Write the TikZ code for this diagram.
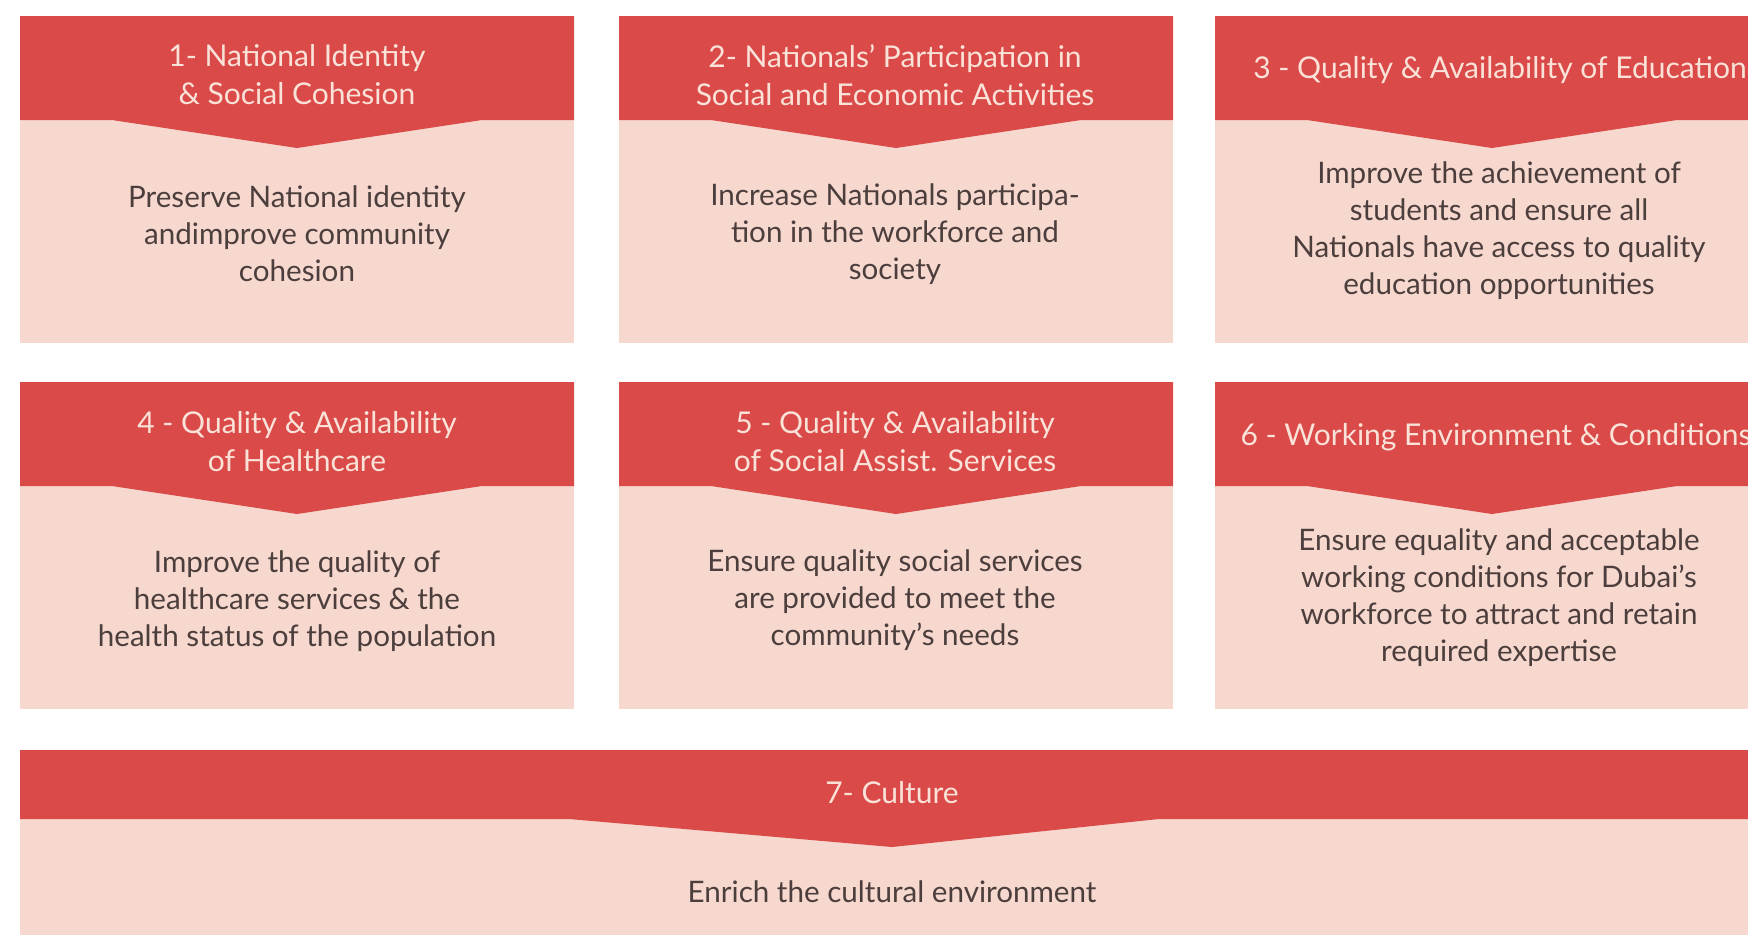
\documentclass[tikz,border=0pt]{standalone}
\usepackage{fontspec}
\setmainfont{Lato}
\definecolor{bandred}{RGB}{217,74,72}
\definecolor{boxpink}{RGB}{246,216,206}
\definecolor{titlepink}{RGB}{250,226,216}
\definecolor{bodygrey}{RGB}{76,62,60}
\tikzset{
  titletext/.style={text=titlepink, align=center, font=\fontsize{15}{19}\selectfont},
  bodytext/.style={text=bodygrey, align=center, font=\fontsize{14.8}{18.5}\selectfont},
}
\begin{document}
\begin{tikzpicture}[x=0.5pt,y=-0.5pt]
      \useasboundingbox (0,0) rectangle (1748,934);
      \clip (0,0) rectangle (1748,934);
      \fill[white] (0,0) rectangle (1748,934);

      % six goal boxes, left x / top y
      \foreach \x/\y in {20/16, 619/16, 1215/16, 20/382, 619/382, 1215/382} {
        \fill[boxpink] (\x,\y) rectangle ++(554,327);
        \fill[bandred] (\x,\y) -- ++(554,0) -- ++(0,104) -- ++(-92,0) -- ++(-185,28) -- ++(-185,-28) -- ++(-92,0) -- cycle;
      }

      % culture bar
      \fill[boxpink] (20,750) rectangle (1760,940);
      \fill[bandred] (20,750) -- (1760,750) -- (1760,819) -- (1159,819) -- (892,847) -- (569,819) -- (20,819) -- cycle;

      \node[titletext] (t1) at (297,75) {1- National Identity\\\& Social Cohesion};
      \node[bodytext] (b1) at (297,234) {Preserve National identity\\andimprove community\\cohesion};
      \node[titletext] (t2) at (895,75) {2- Nationals’ Participation in\\Social and Economic Activities};
      \node[bodytext] (b2) at (895,234) {Increase Nationals participa-\\tion in the workforce and\\society};
      \node[titletext] (t3) at (1500,70) {3 - Quality \& Availability of Education};
      \node[bodytext] (b3) at (1499,231) {Improve the achievement of\\students and ensure all\\Nationals have access to quality\\education opportunities};

      \node[titletext] (t4) at (297,442) {4 - Quality \& Availability\\of Healthcare};
      \node[bodytext] (b4) at (297,601) {Improve the quality of\\healthcare services \& the\\health status of the population};
      \node[titletext] (t5) at (895,442) {5 - Quality \& Availability\\of Social Assist. Services};
      \node[bodytext] (b5) at (895,600) {Ensure quality social services\\are provided to meet the\\community’s needs};
      \node[titletext] (t6) at (1496,437) {6 - Working Environment \& Conditions};
      \node[bodytext] (b6) at (1499,598) {Ensure equality and acceptable\\working conditions for Dubai’s\\workforce to attract and retain\\required expertise};

      \node[titletext] (t7) at (892,793) {7- Culture};
      \node[bodytext] (b7) at (892,892) {Enrich the cultural environment};
    \end{tikzpicture}
\end{document}
